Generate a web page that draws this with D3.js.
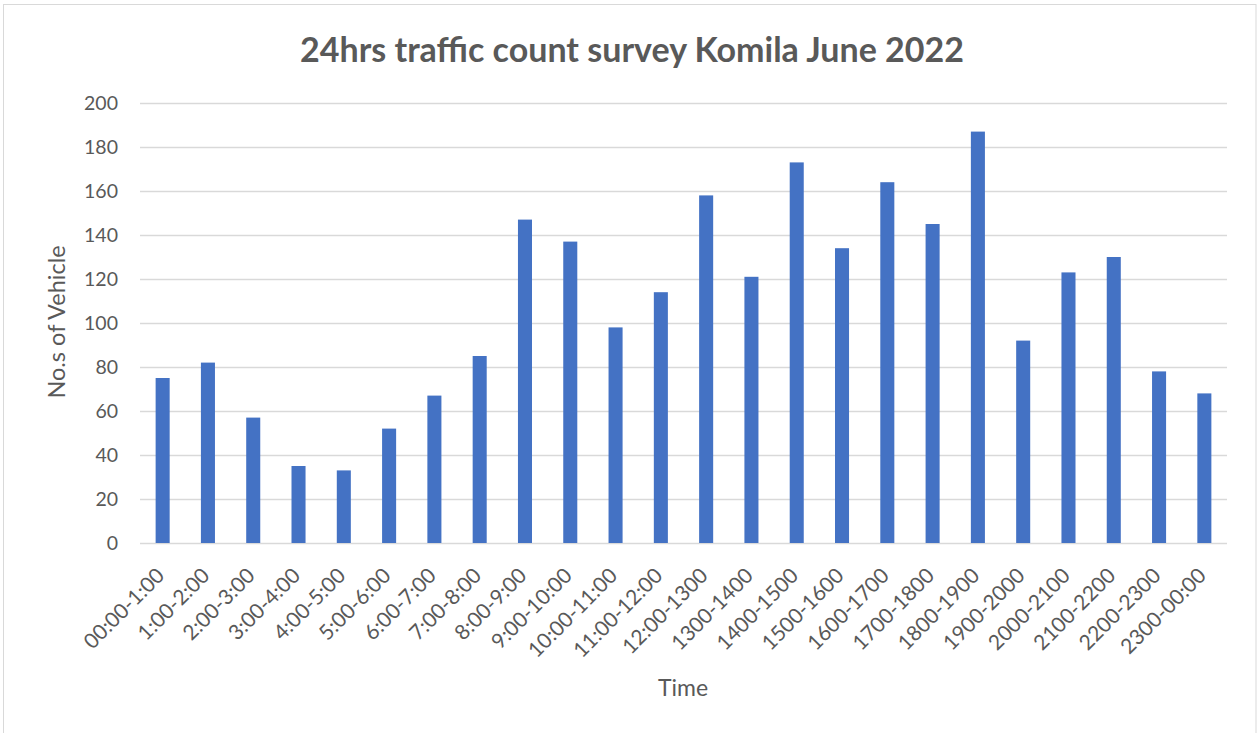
<!DOCTYPE html>
<html>
<head>
<meta charset="utf-8">
<script src="https://cdn.jsdelivr.net/npm/d3@7"></script>
<style>
  html, body { margin: 0; padding: 0; background: #fff; }
  svg { display: block; }
  text { font-family: Lato, "Open Sans", "Liberation Sans", sans-serif; fill: #595959; }
</style>
</head>
<body>
<svg id="chart" width="1258" height="733"></svg>
<script>
// Hourly traffic counts
const periods = [
  "00:00-1:00", "1:00-2:00", "2:00-3:00", "3:00-4:00", "4:00-5:00", "5:00-6:00",
  "6:00-7:00", "7:00-8:00", "8:00-9:00", "9:00-10:00", "10:00-11:00", "11:00-12:00",
  "12:00-1300", "1300-1400", "1400-1500", "1500-1600", "1600-1700", "1700-1800",
  "1800-1900", "1900-2000", "2000-2100", "2100-2200", "2200-2300", "2300-00:00"
];
const vehicles = [75, 82, 57, 35, 33, 52, 67, 85, 147, 137, 98, 114,
                  158, 121, 173, 134, 164, 145, 187, 92, 123, 130, 78, 68];
const yTicks = [0, 20, 40, 60, 80, 100, 120, 140, 160, 180, 200];

const svg = d3.select("#chart");

// chart frame
svg.append("rect")
  .attr("x", 3.5).attr("y", 4.5)
  .attr("width", 1252.5).attr("height", 740)
  .attr("fill", "#fff").attr("stroke", "#d9d9d9").attr("stroke-width", 1);

const plot = { left: 140, right: 1227, top: 103, bottom: 543 };

const x = d3.scaleBand()
  .domain(periods)
  .range([plot.left, plot.right])
  .paddingInner(0.69).paddingOuter(0.345);

const y = d3.scaleLinear()
  .domain([0, 200])
  .range([plot.bottom, plot.top]);

// horizontal gridlines
svg.append("g")
  .selectAll("line")
  .data(yTicks)
  .join("line")
  .attr("x1", plot.left).attr("x2", plot.right)
  .attr("y1", d => Math.round(y(d)) + 0.5).attr("y2", d => Math.round(y(d)) + 0.5)
  .attr("stroke", "#d9d9d9").attr("stroke-width", 1.3);

// y axis labels
const yAxis = d3.axisLeft(y).tickValues(yTicks).tickSize(0).tickPadding(0);
svg.append("g")
  .attr("transform", `translate(${plot.left - 22},0)`)
  .call(yAxis)
  .call(g => g.select(".domain").remove())
  .call(g => g.selectAll("text")
    .style("font-size", "19.5px")
    .attr("fill", "#595959")
    .style("font-family", "Lato, 'Open Sans', sans-serif"));

// bars
svg.append("g")
  .selectAll("rect")
  .data(vehicles)
  .join("rect")
  .attr("x", (d, i) => x(periods[i]))
  .attr("y", d => y(d))
  .attr("width", x.bandwidth())
  .attr("height", d => y(0) - y(d))
  .attr("fill", "#4472c4");

// x axis labels, rotated
const xAxis = d3.axisBottom(x).tickSize(0).tickPadding(0);
svg.append("g")
  .attr("transform", `translate(0,${plot.bottom})`)
  .call(xAxis)
  .call(g => g.select(".domain").remove())
  .call(g => g.selectAll("text")
    .style("font-size", "21px")
    .attr("fill", "#595959")
    .style("font-family", "Lato, 'Open Sans', sans-serif")
    .attr("text-anchor", "end")
    .attr("dy", null)
    .attr("transform", "translate(3,34) rotate(-45)"));

// title
svg.append("text")
  .attr("x", 632).attr("y", 62)
  .attr("text-anchor", "middle")
  .style("font-size", "34px").style("font-weight", "bold")
  .text("24hrs traffic count survey Komila June 2022");

// axis titles
svg.append("text")
  .attr("x", 683).attr("y", 696)
  .attr("text-anchor", "middle")
  .style("font-size", "23px")
  .text("Time");

svg.append("text")
  .attr("transform", "translate(65,322) rotate(-90)")
  .attr("text-anchor", "middle")
  .style("font-size", "23.5px")
  .text("No.s of Vehicle");
</script>
</body>
</html>
